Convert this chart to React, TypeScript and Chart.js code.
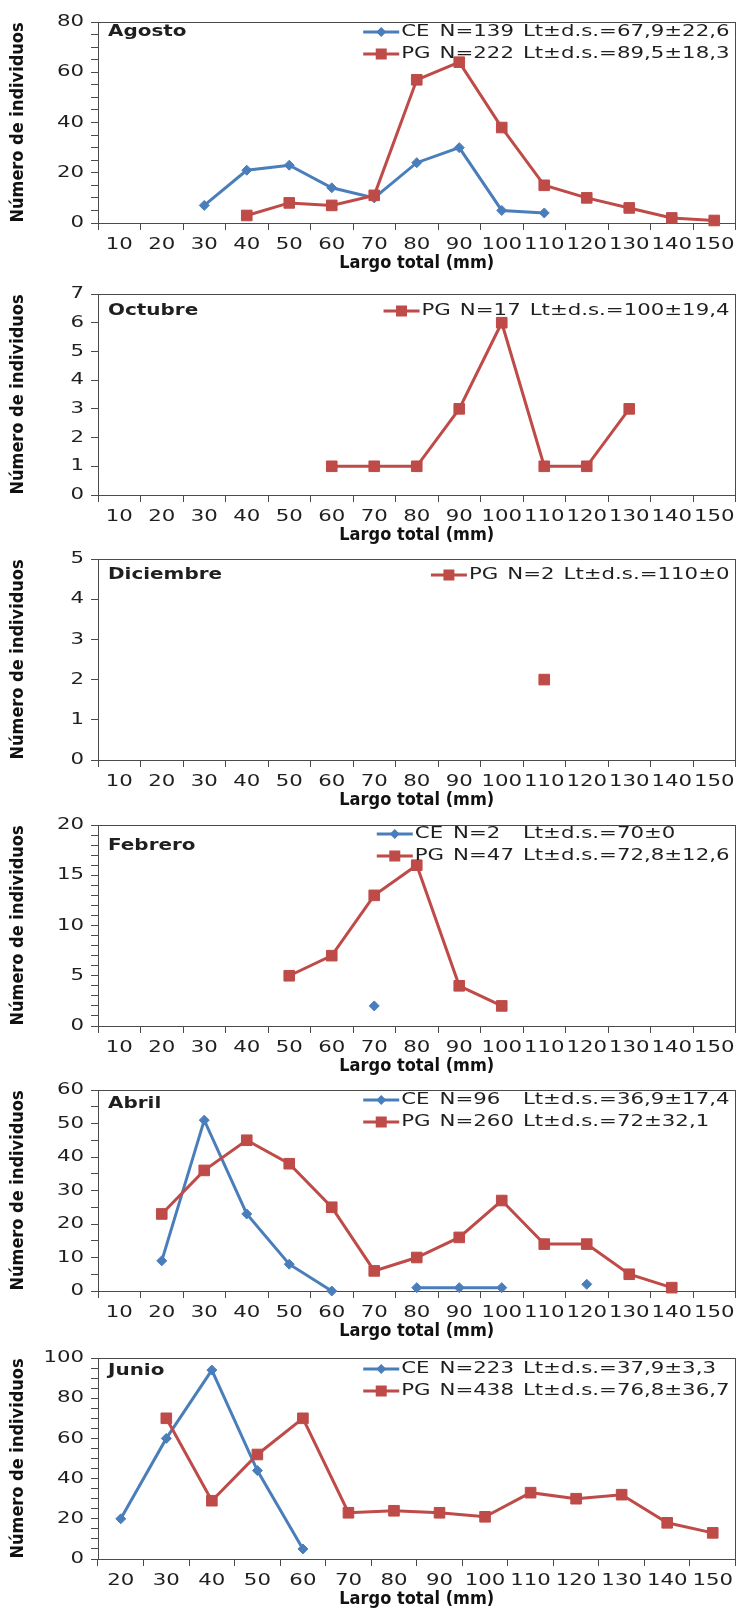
import React, { useEffect, useRef } from 'react';
import { Chart, registerables } from 'chart.js';

Chart.register(...registerables);

// "Verdana" marks wide text, "Tahoma" marks the axis titles
const FONT = "'DejaVu Sans', Verdana, sans-serif";
const TITLE_FONT = "'DejaVu Sans', Tahoma, sans-serif";
const BLUE = '#4A7EBB';
const RED = '#BE4B48';
const AXIS = '#4a4a4a';
const TEXT = '#1f1f1f';
const WIDE = 1.33;
const NARROW = 0.9;

// Categories (Largo total, mm)
const LENGTHS_10 = ['10', '20', '30', '40', '50', '60', '70', '80', '90', '100', '110', '120', '130', '140', '150'];
const LENGTHS_20 = ['20', '30', '40', '50', '60', '70', '80', '90', '100', '110', '120', '130', '140', '150'];

// Series values (Número de individuos)
const AGOSTO_CE = [null, null, 7, 21, 23, 14, 10, 24, 30, 5, 4, null, null, null, null];
const AGOSTO_PG = [null, null, null, 3, 8, 7, 11, 57, 64, 38, 15, 10, 6, 2, 1];
const OCTUBRE_PG = [null, null, null, null, null, 1, 1, 1, 3, 6, 1, 1, 3, null, null];
const DICIEMBRE_PG = [null, null, null, null, null, null, null, null, null, null, 2, null, null, null, null];
const FEBRERO_CE = [null, null, null, null, null, null, 2, null, null, null, null, null, null, null, null];
const FEBRERO_PG = [null, null, null, null, 5, 7, 13, 16, 4, 2, null, null, null, null, null];
const ABRIL_CE = [null, 9, 51, 23, 8, 0, null, 1, 1, 1, null, 2, null, null, null];
const ABRIL_PG = [null, 23, 36, 45, 38, 25, 6, 10, 16, 27, 14, 14, 5, 1, null];
const JUNIO_CE = [20, 60, 94, 44, 5, null, null, null, null, null, null, null, null, null];
const JUNIO_PG = [null, 70, 29, 52, 70, 23, 24, 23, 21, 33, 30, 32, 18, 13];

// Legend texts
const AGOSTO_LEGEND = [
  { series: 'CE', n: 'N=139', stat: 'Lt±d.s.=67,9±22,6' },
  { series: 'PG', n: 'N=222', stat: 'Lt±d.s.=89,5±18,3' },
];
const OCTUBRE_LEGEND = [{ series: 'PG', n: 'N=17', stat: 'Lt±d.s.=100±19,4' }];
const DICIEMBRE_LEGEND = [{ series: 'PG', n: 'N=2', stat: 'Lt±d.s.=110±0' }];
const FEBRERO_LEGEND = [
  { series: 'CE', n: 'N=2', stat: 'Lt±d.s.=70±0' },
  { series: 'PG', n: 'N=47', stat: 'Lt±d.s.=72,8±12,6' },
];
const ABRIL_LEGEND = [
  { series: 'CE', n: 'N=96', stat: 'Lt±d.s.=36,9±17,4' },
  { series: 'PG', n: 'N=260', stat: 'Lt±d.s.=72±32,1' },
];
const JUNIO_LEGEND = [
  { series: 'CE', n: 'N=223', stat: 'Lt±d.s.=37,9±3,3' },
  { series: 'PG', n: 'N=438', stat: 'Lt±d.s.=76,8±36,7' },
];

type Row = { series: string; n: string; stat: string };
type PanelCfg = {
  name: string;
  labels: string[];
  ce: (number | null)[] | null;
  pg: (number | null)[];
  yMax: number;
  minor: number;
  major: number;
  legend: Row[];
  top: number;
  labelDy: number;
  legendDy: number;
};

const PANELS: PanelCfg[] = [
  { name: 'Agosto', labels: LENGTHS_10, ce: AGOSTO_CE, pg: AGOSTO_PG, yMax: 80, minor: 5, major: 20, legend: AGOSTO_LEGEND, top: 0, labelDy: 10, legendDy: 10 },
  { name: 'Octubre', labels: LENGTHS_10, ce: null, pg: OCTUBRE_PG, yMax: 7, minor: 1, major: 1, legend: OCTUBRE_LEGEND, top: 272, labelDy: 17, legendDy: 17 },
  { name: 'Diciembre', labels: LENGTHS_10, ce: null, pg: DICIEMBRE_PG, yMax: 5, minor: 1, major: 1, legend: DICIEMBRE_LEGEND, top: 537, labelDy: 16, legendDy: 16 },
  { name: 'Febrero', labels: LENGTHS_10, ce: FEBRERO_CE, pg: FEBRERO_PG, yMax: 20, minor: 1, major: 5, legend: FEBRERO_LEGEND, top: 803, labelDy: 21, legendDy: 9 },
  { name: 'Abril', labels: LENGTHS_10, ce: ABRIL_CE, pg: ABRIL_PG, yMax: 60, minor: 5, major: 10, legend: ABRIL_LEGEND, top: 1068, labelDy: 14, legendDy: 10 },
  { name: 'Junio', labels: LENGTHS_20, ce: JUNIO_CE, pg: JUNIO_PG, yMax: 100, minor: 5, major: 20, legend: JUNIO_LEGEND, top: 1336, labelDy: 13, legendDy: 11 },
];

const CANVAS_W = 744;
const CANVAS_H = 274;

function fontFactor(font: string) {
  if (font.indexOf('Verdana') >= 0) return WIDE;
  if (font.indexOf('Tahoma') >= 0) return NARROW;
  return 1;
}

// Scale text along its own baseline, following the look of the reference rendering
function shapeText(ctx: any) {
  if (ctx.__shaped) return;
  ctx.__shaped = true;
  const fill = ctx.fillText.bind(ctx);
  const measure = ctx.measureText.bind(ctx);
  ctx.fillText = (t: string, x: number, y: number) => {
    const f = fontFactor(ctx.font);
    ctx.save();
    ctx.translate(x, y);
    ctx.scale(f, 1);
    fill(t, 0, 0);
    ctx.restore();
  };
  ctx.measureText = (t: string) => {
    const m = measure(t);
    const f = fontFactor(ctx.font);
    return {
      width: m.width * f,
      actualBoundingBoxAscent: m.actualBoundingBoxAscent,
      actualBoundingBoxDescent: m.actualBoundingBoxDescent,
      actualBoundingBoxLeft: m.actualBoundingBoxLeft * f,
      actualBoundingBoxRight: m.actualBoundingBoxRight * f,
      fontBoundingBoxAscent: m.fontBoundingBoxAscent,
      fontBoundingBoxDescent: m.fontBoundingBoxDescent,
    };
  };
}

function drawMarker(ctx: CanvasRenderingContext2D, series: string, x: number, y: number) {
  ctx.beginPath();
  if (series === 'CE') {
    const r = 5;
    ctx.moveTo(x - r, y);
    ctx.lineTo(x, y - r);
    ctx.lineTo(x + r, y);
    ctx.lineTo(x, y + r);
    ctx.closePath();
  } else {
    ctx.rect(x - 5.5, y - 5.5, 11, 11);
  }
  ctx.fill();
}

function makeDecor(cfg: PanelCfg) {
  return {
    id: 'decor',
    beforeDatasetsDraw(chart: any) {
      const { ctx, chartArea: a } = chart;
      ctx.save();
      ctx.strokeStyle = AXIS;
      ctx.lineWidth = 1;
      ctx.strokeRect(Math.round(a.left) + 0.5, Math.round(a.top) + 0.5, Math.round(a.right - a.left) - 1, Math.round(a.bottom - a.top));
      ctx.restore();
    },
    afterDraw(chart: any) {
      const { ctx, chartArea: a } = chart;
      ctx.save();
      ctx.textBaseline = 'middle';
      ctx.textAlign = 'left';
      ctx.fillStyle = TEXT;
      ctx.font = `bold 15px ${FONT}`;
      ctx.fillText(cfg.name, a.left + 10, a.top + cfg.labelDy);

      ctx.font = `16px ${FONT}`;
      const LINE = 36;
      const GAP = 9;
      const rows = cfg.legend;
      const w = (s: string) => ctx.measureText(s).width;
      const nameW = Math.max(...rows.map((r) => w(r.series)));
      const nW = Math.max(...rows.map((r) => w(r.n)));
      const rowW = rows.map((r) => LINE + 2 + nameW + GAP + nW + GAP + w(r.stat));
      const x0 = a.right - 6 - Math.max(...rowW);
      rows.forEach((r, i) => {
        const y = a.top + cfg.legendDy + i * 22;
        const color = r.series === 'CE' ? BLUE : RED;
        ctx.strokeStyle = color;
        ctx.lineWidth = 3;
        ctx.beginPath();
        ctx.moveTo(x0, y);
        ctx.lineTo(x0 + LINE, y);
        ctx.stroke();
        ctx.fillStyle = color;
        drawMarker(ctx, r.series, x0 + LINE / 2, y);
        ctx.fillStyle = TEXT;
        ctx.fillText(r.series, x0 + LINE + 2, y);
        ctx.fillText(r.n, x0 + LINE + 2 + nameW + GAP, y);
        ctx.fillText(r.stat, x0 + LINE + 2 + nameW + GAP + nW + GAP, y);
      });
      ctx.restore();
    },
  };
}

function Panel({ cfg }: { cfg: PanelCfg }) {
  const ref = useRef<HTMLCanvasElement>(null);
  useEffect(() => {
    const canvas = ref.current;
    if (!canvas) return;
    const ctx = canvas.getContext('2d');
    shapeText(ctx);
    const datasets: any[] = [
      {
        label: 'PG',
        data: cfg.pg,
        borderColor: RED,
        backgroundColor: RED,
        borderWidth: 3,
        pointStyle: 'rect',
        pointRadius: 7.5,
        pointBorderWidth: 1,
        pointBackgroundColor: RED,
        pointBorderColor: RED,
        tension: 0,
        spanGaps: false,
        clip: false,
        order: 0,
      },
    ];
    if (cfg.ce) {
      datasets.push({
        label: 'CE',
        data: cfg.ce,
        borderColor: BLUE,
        backgroundColor: BLUE,
        borderWidth: 3,
        pointStyle: 'rectRot',
        pointRadius: 5,
        pointBorderWidth: 1,
        pointBackgroundColor: BLUE,
        pointBorderColor: BLUE,
        tension: 0,
        spanGaps: false,
        clip: false,
        order: 1,
      });
    }
    const chart = new Chart(canvas, {
      type: 'line',
      data: { labels: cfg.labels, datasets },
      options: {
        responsive: false,
        animation: false,
        devicePixelRatio: 1,
        layout: { padding: { top: 22, right: 2, left: 0, bottom: 0 } },
        plugins: { legend: { display: false }, tooltip: { enabled: false } },
        scales: {
          x: {
            type: 'category',
            offset: true,
            grid: { offset: true, drawOnChartArea: false, drawTicks: true, tickLength: 7, color: AXIS },
            border: { color: AXIS, width: 1 },
            ticks: { autoSkip: false, maxRotation: 0, minRotation: 0, padding: 5, color: TEXT, font: { family: FONT, size: 16 } },
            title: { display: true, text: 'Largo total (mm)', color: '#111', font: { family: TITLE_FONT, size: 18, weight: 'bold' }, padding: 0 },
            afterFit: (s: any) => {
              s.height = 51;
            },
          },
          y: {
            min: 0,
            max: cfg.yMax,
            grid: { drawOnChartArea: false, drawTicks: true, tickLength: 7, color: AXIS },
            border: { color: AXIS, width: 1 },
            ticks: {
              stepSize: cfg.minor,
              autoSkip: false,
              padding: 7,
              color: TEXT,
              font: { family: FONT, size: 16 },
              callback: (v: any) => (Math.round(v) % cfg.major === 0 ? String(v) : ''),
            },
            title: { display: true, text: 'Número de individuos', color: '#111', font: { family: TITLE_FONT, size: 18, weight: 'bold' }, padding: { top: 8, bottom: 0 } },
            afterFit: (s: any) => {
              s.width = 98;
            },
          },
        },
      } as any,
      plugins: [makeDecor(cfg)],
    });
    return () => chart.destroy();
  }, [cfg]);
  return (
    <canvas
      ref={ref}
      width={CANVAS_W}
      height={CANVAS_H}
      style={{ position: 'absolute', left: 0, top: cfg.top, width: `${CANVAS_W}px`, height: `${CANVAS_H}px` }}
    />
  );
}

export default function App() {
  return (
    <div style={{ position: 'absolute', left: 0, top: 0, width: 744, height: 1611, background: '#fff' }}>
      {PANELS.map((p) => (
        <Panel key={p.name} cfg={p} />
      ))}
    </div>
  );
}
